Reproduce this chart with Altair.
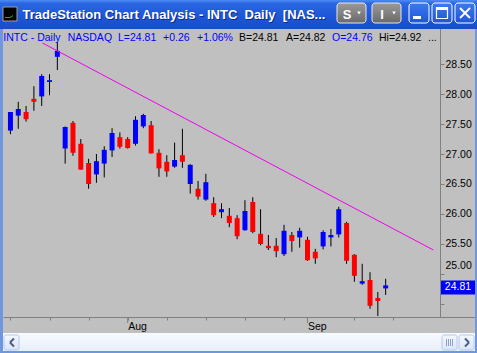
import altair as alt
import pandas as pd

# ---------------- data ----------------
opens  = [27.39, 27.64, 27.70, 27.92, 27.96, 28.20, 28.62, 27.09, 27.52, 27.17,
          26.85, 26.66, 26.84, 27.06, 27.28, 27.25, 27.17, 27.46, 27.48, 27.02,
          26.87, 26.79, 26.98, 26.50, 26.42, 26.24, 26.18, 26.03, 25.97, 25.93,
          25.73, 26.20, 25.67, 25.47, 25.47, 25.33, 25.65, 25.61, 25.57, 25.37,
          25.46, 25.61, 25.66, 25.85, 25.32, 24.84, 24.90, 24.60, 24.76]
highs  = [27.70, 27.87, 27.80, 28.13, 28.33, 28.33, 28.86, 27.46, 27.55, 27.25,
          26.92, 27.00, 27.13, 27.43, 27.36, 27.28, 27.63, 27.67, 27.55, 27.08,
          26.98, 27.19, 27.42, 26.83, 26.55, 26.67, 26.28, 26.18, 26.10, 25.98,
          26.23, 26.28, 26.08, 25.65, 25.60, 25.82, 25.70, 25.77, 25.62, 25.42,
          25.73, 25.75, 26.12, 25.87, 25.33, 25.17, 25.03, 24.70, 24.92]
lows   = [27.33, 27.42, 27.54, 27.72, 27.80, 27.98, 28.40, 26.84, 26.97, 26.74,
          26.42, 26.52, 26.61, 26.95, 27.09, 27.09, 27.14, 27.43, 27.01, 26.62,
          26.62, 26.77, 26.77, 26.34, 26.24, 26.22, 25.95, 25.93, 25.78, 25.58,
          25.72, 25.68, 25.48, 25.40, 25.28, 25.30, 25.37, 25.44, 25.22, 25.17,
          25.41, 25.46, 25.61, 25.17, 24.87, 24.82, 24.42, 24.30, 24.65]
closes = [27.70, 27.75, 27.58, 27.87, 28.30, 28.23, 28.72, 27.45, 27.02, 26.74,
          26.50, 26.88, 27.07, 27.35, 27.12, 27.10, 27.57, 27.65, 27.01, 26.76,
          26.71, 26.90, 26.87, 26.82, 26.29, 26.53, 25.98, 26.08, 25.85, 25.63,
          26.05, 25.70, 25.50, 25.43, 25.38, 25.72, 25.55, 25.72, 25.23, 25.26,
          25.70, 25.65, 26.08, 25.22, 24.97, 24.88, 24.47, 24.55, 24.81]

trend_bar = [4.1, 54.1]
trend_price = [28.85, 25.40]

y_ticks = [24.5, 25.0, 25.5, 26.0, 26.5, 27.0, 27.5, 28.0, 28.5]
x_ticks = [0, 5, 10, 15, 20, 25, 30, 35, 38, 44, 49]
month_names = ["Aug", "Sep"]
month_bars = [15, 38]

title_text = "TradeStation Chart Analysis - INTC\u00a0\u00a0Daily\u00a0\u00a0[NAS..."
header_parts = ["INTC - Daily", "NASDAQ", "L=24.81", "+0.26", "+1.06%",
                "B=24.81", "A=24.82", "O=24.76", "Hi=24.92", "..."]

# ---------------- layout / style ----------------
header_x = [3.3, 67.7, 118, 163, 197, 239, 286, 332, 379, 428]
header_blue = [True, True, True, True, True, False, False, True, False, False]
PL, PT = 3, 30
W, H = 437, 287
FONT = "Liberation Sans"
GRAY = "#808080"

df = pd.DataFrame({"i": list(range(len(opens))), "open": opens, "high": highs,
                   "low": lows, "close": closes})
trend_df = pd.DataFrame({"i": trend_bar, "p": trend_price})
month_df = pd.DataFrame({"i": month_bars, "m": month_names})
last_df = pd.DataFrame({"c": [closes[-1]]})

xs = alt.Scale(domain=[-0.3125, 54.3125], nice=False, zero=False)
ys = alt.Scale(domain=[24.2833, 29.0667], nice=False, zero=False)

label_expr = " : ".join(
    [f"datum.value == {b} ? '{m}'" for b, m in zip(month_bars, month_names)]) + " : ''"

x_axis = alt.Axis(values=x_ticks, labelExpr=label_expr, tickSize=3, tickColor=GRAY,
                  domainColor=GRAY, labelFont=FONT, labelFontSize=10.5, labelColor="black",
                  labelAlign="left", labelBaseline="top", labelPadding=1.5, labelOffset=0,
                  labelFlush=False, labelOverlap=False, labelBound=False, grid=False,
                  title=None)
y_axis = alt.Axis(orient="right", values=y_ticks,
                  labelExpr="datum.value < 24.75 ? '' : format(datum.value, '.2f')",
                  labelOffset={"condition": {"test": "datum.value == 25", "value": -8.5},
                               "value": 0},
                  tickSize=4, tickColor=GRAY, domainColor=GRAY, labelFont=FONT,
                  labelFontSize=10.5, labelColor="black", labelPadding=1,
                  labelOverlap=False, labelFlush=False, labelBound=False, grid=False,
                  title=None)

X = lambda f: alt.X(f, scale=xs, axis=x_axis)
Y = lambda f: alt.Y(f, scale=ys, axis=y_axis)

base = alt.Chart(df)
wicks = base.mark_rule(color="black", strokeWidth=1).encode(
    x=X("i:Q"), y=Y("low:Q"), y2="high:Q")
bodies = base.mark_bar(size=5).encode(
    x=X("i:Q"), y=Y("open:Q"), y2="close:Q",
    color=alt.condition("datum.close >= datum.open", alt.value("#0000FF"), alt.value("#FF0000")))
trend = alt.Chart(trend_df).mark_line(color="#F000F0", strokeWidth=1).encode(
    x=X("i:Q"), y=Y("p:Q"))
month_ticks = alt.Chart(month_df).mark_rule(color=GRAY).encode(
    x=X("i:Q"), y=alt.value(H), y2=alt.value(H + 6))
last_box = alt.Chart(last_df).mark_point(
    shape="M-1,-0.4118H1V0.4118H-1Z", size=1156, filled=True, color="#0000FF",
    opacity=1, strokeWidth=0, yOffset=2).encode(
    x=alt.value(458 - PL), y=Y("c:Q"))
last_text = alt.Chart(last_df).mark_text(
    font=FONT, fontSize=10.5, color="white", align="center", baseline="middle", dy=2).encode(
    x=alt.value(458 - PL), y=Y("c:Q"),
    text=alt.Text("c:Q", format=".2f"))

one = alt.Data(values=[{"a": 1}])


def rect(x1, y1, x2, y2, **kw):
    return alt.Chart(one).mark_rect(**kw).encode(
        x=alt.value(x1 - PL), x2=alt.value(x2 - PL),
        y=alt.value(y1 - PT), y2=alt.value(y2 - PT))


def seg(x1, y1, x2, y2, **kw):
    return alt.Chart(one).mark_rule(**kw).encode(
        x=alt.value(x1 - PL), x2=alt.value(x2 - PL),
        y=alt.value(y1 - PT), y2=alt.value(y2 - PT))


def text(s, x, y, **kw):
    return alt.Chart(one).mark_text(text=s, **kw).encode(
        x=alt.value(x - PL), y=alt.value(y - PT))


def vgrad(stops):
    return alt.LinearGradient(gradient="linear", x1=0, x2=0, y1=0, y2=1,
                              stops=[alt.GradientStop(color=c, offset=o) for o, c in stops])


deco = []
# title bar
deco.append(rect(0, 0, 477, 29, color=vgrad([(0, "#4C8BF5"), (0.12, "#2A66E2"),
                                              (0.55, "#1E57D7"), (1, "#1A4CC8")])))
deco.append(rect(3, 7, 17, 21, color="black", stroke="#A0A0A0", strokeWidth=1))
deco.append(seg(5, 17.5, 10, 17.5, color="#00C000", strokeWidth=1))
deco.append(seg(10, 17.5, 13, 15.5, color="#00C000", strokeWidth=1))
deco.append(text(title_text, 23.5, 19.5, font=FONT, fontSize=13, fontWeight="bold",
                 color="#0A2A80", align="left", baseline="alphabetic"))
deco.append(text(title_text, 22.5, 18.5, font=FONT, fontSize=13, fontWeight="bold",
                 color="white", align="left", baseline="alphabetic"))
# S / I buttons
for bx, lab in [(337, "S"), (372, "I")]:
    deco.append(rect(bx, 3, bx + 29, 23, color=vgrad([(0, "#9A9A9A"), (1, "#6A6A6A")]),
                     stroke="#E8E8E8", strokeWidth=1, cornerRadius=3))
    deco.append(text(lab, bx + 10, 18.5, font=FONT, fontSize=13, fontWeight="bold",
                     color="white", align="center", baseline="alphabetic"))
    deco.append(alt.Chart(one).mark_point(shape="triangle-down", size=14, filled=True,
                                          color="white", opacity=1).encode(
        x=alt.value(bx + 22 - PL), y=alt.value(13 - PT)))
# window buttons
for bx in [409, 432, 455]:
    deco.append(rect(bx, 3, bx + 20, 23, color=vgrad([(0, "#3C7AF0"), (1, "#1F55D5")]),
                     stroke="white", strokeWidth=1, cornerRadius=3))
deco.append(rect(413, 16, 421, 19, color="white"))
deco.append(rect(436.5, 7.5, 447.5, 18.5, fill=None, stroke="white", strokeWidth=1.2))
deco.append(rect(436, 7, 448, 10, color="white"))
deco.append(seg(460, 8, 470, 18, color="white", strokeWidth=2))
deco.append(seg(470, 8, 460, 18, color="white", strokeWidth=2))
# header text
for s, hx, blue in zip(header_parts, header_x, header_blue):
    deco.append(text(s, hx, 40.5, font=FONT, fontSize=10.5,
                     color="#0000FF" if blue else "black", align="left",
                     baseline="alphabetic"))
# axis extension
deco.append(seg(440, 317.5, 477, 317.5, color=GRAY, strokeWidth=1))
deco.append(seg(440.5, 29, 440.5, 31, color=GRAY, strokeWidth=1))
# scrollbar
deco.append(rect(3, 333, 475, 351, color=vgrad([(0, "#F7FAFF"), (1, "#E8EFFB")])))
for bx in [4, 459]:
    deco.append(rect(bx, 335, bx + 15, 350, color=vgrad([(0, "#F4F8FF"), (1, "#D9E5F8")]),
                     stroke="#B6C9EC", strokeWidth=1, cornerRadius=2))
deco.append(rect(442, 335, 457, 350, color=vgrad([(0, "#F4F8FF"), (1, "#D9E5F8")]),
                 stroke="#B6C9EC", strokeWidth=1, cornerRadius=2))
for gx in [446.5, 448.5, 450.5, 452.5]:
    deco.append(seg(gx, 339, gx, 346, color="#8DA2C8", strokeWidth=1))
deco.append(seg(14, 338.5, 10, 342.5, color="#4A5E88", strokeWidth=2))
deco.append(seg(10, 342.5, 14, 346.5, color="#4A5E88", strokeWidth=2))
deco.append(seg(465, 338.5, 469, 342.5, color="#4A5E88", strokeWidth=2))
deco.append(seg(469, 342.5, 465, 346.5, color="#4A5E88", strokeWidth=2))
# window borders
deco.append(rect(0, 29, 3, 353, color="#6F97DE"))
deco.append(rect(475, 29, 477, 353, color="#6F97DE"))
deco.append(rect(0, 351, 477, 353, color="#6F97DE"))

chart = alt.layer(wicks, bodies, trend, month_ticks, last_box, last_text, *deco).properties(
    width=W, height=H, background="#C0C0C0",
    padding={"left": PL, "top": PT, "right": 477 - PL - W, "bottom": 353 - PT - H},
    autosize=alt.AutoSizeParams(type="none"),
).configure_view(strokeWidth=0)

chart.save("out.html", embed_options={"renderer": "svg", "actions": False})
